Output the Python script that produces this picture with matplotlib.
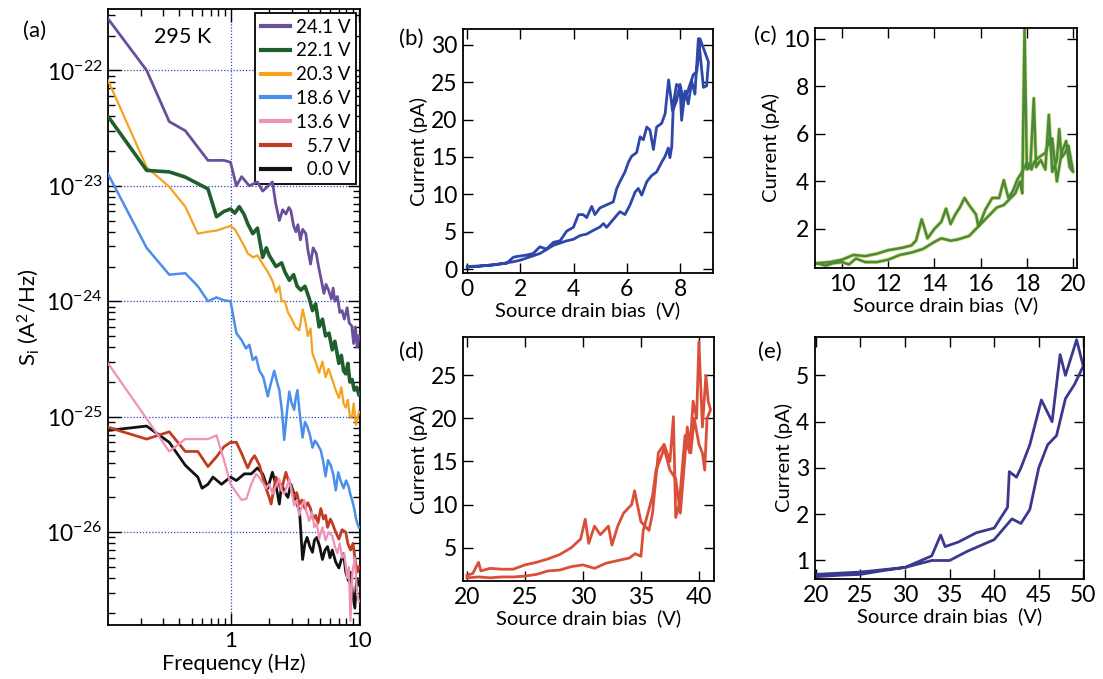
import matplotlib
matplotlib.use("Agg")
import matplotlib.pyplot as plt
from matplotlib.ticker import LogLocator, NullFormatter, FixedLocator

plt.rcParams['font.family'] = ['Lato', 'DejaVu Sans']
plt.rcParams['mathtext.fontset'] = 'custom'
plt.rcParams['mathtext.rm'] = 'Lato'
plt.rcParams['mathtext.it'] = 'Lato:italic'
plt.rcParams['mathtext.bf'] = 'Lato:bold'

# ---------------- panel (a) data ----------------
f_241 = [0.111, 0.222, 0.333, 0.444, 0.667, 0.889, 1.0, 1.11, 1.22, 1.4, 1.62, 1.78, 2.12, 2.25, 2.4,
         2.55, 2.7, 2.85, 2.95, 3.1, 3.23, 3.35, 3.5, 3.65, 3.86, 4.0, 4.2, 4.4, 4.65, 4.85, 5.05, 5.34,
         5.55, 5.8, 6.1, 6.3, 6.5, 6.8, 7.1, 7.4, 7.7, 8.1, 8.4, 8.8, 9.1, 9.4, 9.7, 10.0]
s_241 = [2.8e-22, 1.0e-22, 3.6e-23, 3.0e-23, 1.66e-23, 1.66e-23, 1.6e-23, 1.0e-23, 1.2e-23, 1.0e-23,
         1.08e-23, 0.9e-23, 1.08e-23, 7.0e-24, 5.0e-24, 6.2e-24, 5.7e-24, 6.5e-24, 6.1e-24, 4.5e-24,
         4.0e-24, 4.6e-24, 3.4e-24, 4.2e-24, 3.85e-24, 2.8e-24, 2.1e-24, 2.9e-24, 2.6e-24, 2.0e-24,
         1.6e-24, 1.17e-24, 1.4e-24, 1.25e-24, 1.05e-24, 1.3e-24, 1.0e-24, 1.1e-24, 8.0e-25, 8.3e-25,
         7.0e-25, 8.8e-25, 6.5e-25, 6.1e-25, 4.3e-25, 6.0e-25, 4.0e-25, 5.0e-25]

f_221 = [0.111, 0.222, 0.333, 0.444, 0.667, 0.778, 0.889, 1.0, 1.08, 1.17, 1.28, 1.36, 1.49, 1.62, 1.78,
         1.9, 2.0, 2.26, 2.5, 2.65, 2.87, 3.1, 3.3, 3.53, 3.8, 4.1, 4.35, 4.6, 4.9, 5.2, 5.5, 5.85, 6.2,
         6.5, 6.98, 7.3, 7.6, 7.9, 8.2, 8.5, 8.85, 9.2, 9.6, 10.0]
s_221 = [4.0e-23, 1.36e-23, 1.32e-23, 1.19e-23, 9.4e-24, 5.4e-24, 6.0e-24, 6.3e-24, 5.8e-24, 6.6e-24,
         5.6e-24, 4.7e-24, 3.85e-24, 4.3e-24, 2.4e-24, 2.9e-24, 2.5e-24, 2.0e-24, 2.15e-24, 1.8e-24,
         1.52e-24, 1.7e-24, 1.35e-24, 1.25e-24, 1.35e-24, 1.06e-24, 8.3e-25, 9.5e-25, 6.0e-25, 7.0e-25,
         5.0e-25, 5.3e-25, 3.8e-25, 4.5e-25, 2.9e-25, 3.4e-25, 2.5e-25, 2.35e-25, 2.9e-25, 2.0e-25,
         2.1e-25, 1.7e-25, 1.8e-25, 1.55e-25]

f_203 = [0.111, 0.222, 0.333, 0.444, 0.556, 0.667, 0.778, 0.889, 1.0, 1.08, 1.17, 1.28, 1.36, 1.5, 1.62,
         1.78, 1.95, 2.12, 2.26, 2.4, 2.5, 2.65, 2.8, 3.0, 3.2, 3.43, 3.65, 3.85, 4.0, 4.2, 4.35, 4.6, 4.9,
         5.2, 5.5, 5.8, 6.2, 6.6, 6.98, 7.3, 7.6, 7.9, 8.2, 8.5, 8.85, 9.1, 9.5, 10.0]
s_203 = [8.2e-23, 1.45e-23, 9.8e-24, 6.6e-24, 3.85e-24, 4.0e-24, 4.1e-24, 4.3e-24, 4.5e-24, 4.2e-24,
         3.6e-24, 3.0e-24, 2.6e-24, 2.4e-24, 2.5e-24, 2.1e-24, 1.8e-24, 1.5e-24, 1.2e-24, 1.35e-24,
         1.0e-24, 1.0e-24, 8.0e-25, 7.0e-25, 6.0e-25, 5.6e-25, 8.5e-25, 6.5e-25, 5.0e-25, 5.8e-25,
         3.5e-25, 3.0e-25, 2.4e-25, 3.0e-25, 2.2e-25, 2.6e-25, 2.1e-25, 1.7e-25, 1.45e-25, 1.8e-25,
         1.3e-25, 1.2e-25, 1.4e-25, 1.0e-25, 1.0e-25, 1.3e-25, 8.5e-26, 1.1e-25]

f_186 = [0.111, 0.222, 0.333, 0.444, 0.556, 0.667, 0.778, 0.889, 1.0, 1.11, 1.22, 1.32, 1.4, 1.49, 1.58,
         1.68, 1.8, 1.95, 2.05, 2.19, 2.3, 2.4, 2.52, 2.62, 2.75, 2.87, 3.0, 3.13, 3.22, 3.32, 3.48, 3.64,
         3.8, 3.95, 4.15, 4.35, 4.55, 4.75, 5.05, 5.25, 5.5, 5.75, 6.03, 6.3, 6.6, 6.9, 7.2, 7.6, 7.95,
         8.3, 8.6, 8.85, 9.2, 9.5, 9.7, 10.0]
s_186 = [1.27e-23, 2.9e-24, 1.7e-24, 1.75e-24, 1.35e-24, 1.0e-24, 1.08e-24, 1.02e-24, 1.0e-24, 5.3e-25,
         4.6e-25, 3.9e-25, 4.2e-25, 3.1e-25, 3.3e-25, 2.5e-25, 2.2e-25, 1.5e-25, 1.9e-25, 2.5e-25,
         2.0e-25, 1.7e-25, 1.1e-25, 6.3e-26, 1.1e-25, 1.65e-25, 1.3e-25, 1.15e-25, 1.45e-25, 1.7e-25,
         1.0e-25, 6.6e-26, 9.0e-26, 8.3e-26, 7.0e-26, 5.4e-26, 6.2e-26, 5.8e-26, 5.1e-26, 4.2e-26,
         3.05e-26, 4.2e-26, 3.8e-26, 3.2e-26, 2.3e-26, 3.3e-26, 2.8e-26, 2.4e-26, 2.8e-26, 2.5e-26,
         2.1e-26, 1.9e-26, 1.6e-26, 1.3e-26, 1.2e-26, 1.1e-26]

f_136 = [0.111, 0.222, 0.333, 0.444, 0.556, 0.667, 0.778, 0.889, 1.0, 1.11, 1.22, 1.33, 1.45, 1.58, 1.7,
         1.89, 2.0, 2.12, 2.25, 2.4, 2.5, 2.62, 2.75, 2.87, 3.0, 3.13, 3.28, 3.43, 3.6, 3.75, 3.9, 4.1,
         4.3, 4.5, 4.7, 4.9, 5.2, 5.5, 5.8, 6.2, 6.5, 6.8, 7.1, 7.4, 7.7, 8.1, 8.35, 8.6, 8.9, 9.3, 9.5,
         9.7, 10.0]
s_136 = [2.9e-25, 9.6e-26, 5.0e-26, 6.4e-26, 6.4e-26, 6.4e-26, 6.9e-26, 4.2e-26, 2.6e-26, 2.2e-26,
         1.9e-26, 1.95e-26, 2.6e-26, 3.2e-26, 2.9e-26, 2.4e-26, 2.6e-26, 2.15e-26, 2.5e-26, 2.9e-26,
         2.3e-26, 2.15e-26, 2.5e-26, 2.9e-26, 2.2e-26, 1.7e-26, 1.9e-26, 1.4e-26, 1.7e-26, 1.9e-26,
         1.5e-26, 1.25e-26, 1.5e-26, 1.1e-26, 1.2e-26, 8.7e-27, 1.1e-26, 8.5e-27, 1.0e-26, 9.3e-27,
         7.5e-27, 6.6e-27, 8.0e-27, 6.0e-27, 6.5e-27, 4.0e-27, 5.0e-27, 1.7e-27, 4.5e-27, 6.0e-27,
         4.0e-27, 2.9e-27, 2.5e-27]

f_57 = [0.111, 0.222, 0.333, 0.444, 0.556, 0.667, 0.778, 0.889, 1.0, 1.11, 1.22, 1.36, 1.45, 1.54, 1.68,
        1.78, 1.89, 2.0, 2.07, 2.18, 2.26, 2.38, 2.5, 2.6, 2.7, 2.82, 2.95, 3.05, 3.13, 3.28, 3.43, 3.6,
        3.8, 4.0, 4.2, 4.4, 4.6, 4.8, 5.05, 5.3, 5.5, 5.7, 6.0, 6.2, 6.6, 6.98, 7.4, 7.9, 8.2, 8.6, 9.0,
        9.4, 9.7, 10.0]
s_57 = [8.1e-26, 6.4e-26, 7.4e-26, 5.0e-26, 5.0e-26, 3.7e-26, 4.5e-26, 5.5e-26, 6.0e-26, 6.0e-26,
        4.8e-26, 3.6e-26, 4.2e-26, 4.6e-26, 3.8e-26, 3.0e-26, 2.4e-26, 2.0e-26, 1.75e-26, 2.4e-26,
        3.0e-26, 2.6e-26, 2.3e-26, 2.8e-26, 3.3e-26, 2.8e-26, 2.5e-26, 2.2e-26, 2.0e-26, 2.2e-26,
        1.75e-26, 1.9e-26, 1.6e-26, 1.8e-26, 1.6e-26, 1.3e-26, 1.4e-26, 1.2e-26, 1.6e-26, 1.3e-26,
        1.4e-26, 1.1e-26, 1.3e-26, 1.2e-26, 1.0e-26, 8.7e-27, 1.05e-26, 1.0e-26, 8.0e-27, 7.0e-27,
        8.0e-27, 5.5e-27, 4.5e-27, 5.0e-27]

f_00 = [0.111, 0.222, 0.333, 0.444, 0.556, 0.6, 0.667, 0.73, 0.85, 1.0, 1.11, 1.28, 1.45, 1.62, 1.78,
        1.95, 2.12, 2.25, 2.4, 2.5, 2.65, 2.8, 2.95, 3.1, 3.3, 3.45, 3.64, 3.8, 3.95, 4.15, 4.35, 4.5,
        4.7, 4.95, 5.2, 5.45, 5.7, 5.95, 6.2, 6.6, 6.98, 7.3, 7.6, 7.9, 8.3, 8.6, 8.9, 9.3, 9.6, 10.0]
s_00 = [7.6e-26, 8.3e-26, 6.0e-26, 3.8e-26, 3.0e-26, 2.4e-26, 2.6e-26, 3.0e-26, 2.6e-26, 3.0e-26,
        2.8e-26, 3.2e-26, 3.2e-26, 3.6e-26, 3.2e-26, 2.4e-26, 3.3e-26, 2.6e-26, 1.75e-26, 2.6e-26,
        2.2e-26, 2.0e-26, 2.6e-26, 2.2e-26, 1.75e-26, 1.5e-26, 5.8e-27, 8.0e-27, 9.0e-27, 7.5e-27,
        6.7e-27, 8.5e-27, 9.0e-27, 7.5e-27, 5.8e-27, 7.0e-27, 7.5e-27, 6.0e-27, 7.0e-27, 5.5e-27,
        4.9e-27, 5.8e-27, 6.5e-27, 4.5e-27, 3.8e-27, 4.5e-27, 3.0e-27, 2.2e-27, 4.0e-27, 3.5e-27]

labels_a = ['24.1 V', '22.1 V', '20.3 V', '18.6 V', '13.6 V', '\u20075.7 V', '\u20070.0 V']
colors_a = ['#6a4f9c', '#1f5e2d', '#f5a31f', '#4a8fec', '#ef93b4', '#c23b22', '#111111']
widths_a = [2.0, 2.6, 1.6, 1.8, 1.6, 2.0, 2.0]

# ---------------- panels (b)-(e) data ----------------
vb = [0.0, 0.98, 1.73, 1.98, 2.73, 3.24, 3.74, 3.99, 4.24, 4.49, 4.74, 4.99, 5.12, 5.24, 5.49, 5.74,
      5.93, 6.12, 6.31, 6.43, 6.56, 6.75, 6.93, 7.12, 7.31, 7.44, 7.56, 7.62, 7.69, 7.75, 7.87, 8.0,
      8.06, 8.19, 8.31, 8.44, 8.56, 8.69, 8.75, 8.88, 9.0, 9.07, 8.75, 8.63, 8.5, 8.31, 8.13, 8.0,
      7.87, 7.72, 7.57, 7.44, 7.31, 7.12, 7.0, 6.87, 6.75, 6.62, 6.5, 6.37, 6.18, 6.06, 5.93, 5.74,
      5.62, 5.49, 5.24, 4.99, 4.8, 4.68, 4.49, 4.36, 4.18, 3.99, 3.74, 3.49, 3.24, 2.98, 2.73, 2.48,
      2.23, 1.86, 1.73, 1.48, 0.98, 0.48, 0.0]
ib = [0.35, 0.57, 1.0, 1.2, 2.1, 3.2, 3.8, 4.0, 4.5, 4.7, 5.2, 5.65, 6.1, 5.6, 6.65, 7.7, 7.3, 8.6, 10.3,
      10.8, 9.9, 11.7, 12.5, 13.0, 14.3, 15.1, 16.2, 14.9, 16.4, 22.1, 24.7, 24.3, 19.9, 23.8, 22.1,
      25.1, 23.4, 30.8, 29.0, 24.3, 24.5, 27.7, 30.8, 26.4, 26.0, 24.0, 22.5, 24.7, 22.5, 21.2, 25.3,
      20.8, 19.5, 19.0, 16.0, 18.6, 19.0, 17.3, 17.7, 15.6, 15.1, 14.3, 13.0, 11.7, 10.8, 9.0, 8.6,
      8.2, 7.3, 8.4, 6.9, 7.3, 7.3, 5.6, 5.1, 3.8, 3.6, 2.7, 3.0, 2.1, 1.9, 1.7, 1.6, 0.8, 0.6, 0.4,
      0.3]

vc = [8.9, 9.3, 9.6, 10.0, 10.3, 10.6, 11.0, 11.5, 12.0, 12.5, 13.0, 13.5, 14.0, 14.3, 14.7, 15.0,
      15.5, 16.0, 16.4, 16.7, 17.0, 17.3, 17.5, 17.7, 17.8, 17.9, 18.0, 18.15, 18.3, 18.4, 18.6, 18.8,
      18.95, 19.1, 19.3, 19.4, 19.5, 19.65, 19.8, 20.0, 19.85, 19.7, 19.5, 19.3, 19.1, 19.0, 18.8,
      18.5, 18.3, 18.2, 18.0, 17.8, 17.6, 17.4, 17.2, 17.0, 16.8, 16.5, 16.2, 16.0, 15.9, 15.8, 15.5,
      15.3, 15.1, 14.9, 14.7, 14.5, 14.3, 14.0, 13.7, 13.45, 13.2, 13.0, 12.6, 12.0, 11.5, 11.0, 10.5,
      10.0, 9.5, 8.9]
ic = [0.55, 0.45, 0.55, 0.6, 0.5, 0.75, 0.6, 0.6, 0.7, 0.9, 1.0, 1.15, 1.45, 1.6, 1.5, 1.55, 1.7, 2.2,
      2.6, 2.9, 3.0, 3.3, 3.5, 4.0, 3.5, 10.4, 4.5, 4.6, 7.5, 4.6, 4.9, 4.5, 6.8, 4.4, 4.9, 6.2, 5.0,
      5.2, 5.5, 4.4, 4.6, 5.7, 5.2, 4.0, 5.8, 5.8, 5.2, 5.0, 4.8, 4.5, 4.8, 4.4, 4.1, 3.6, 3.3, 4.05,
      3.3, 3.3, 2.8, 2.3, 2.1, 2.6, 3.0, 3.3, 2.9, 2.6, 2.2, 2.85, 2.3, 2.0, 1.6, 2.4, 1.5, 1.3, 1.2,
      1.1, 0.95, 0.85, 0.9, 0.7, 0.6, 0.55]

vd = [20.0, 21.0, 22.0, 23.0, 24.0, 25.0, 26.0, 27.0, 28.0, 29.0, 30.0, 31.0, 32.0, 33.0, 34.0, 34.5,
      35.0, 35.2, 35.5, 36.0, 36.3, 36.6, 37.0, 37.5, 38.0, 38.4, 38.7, 39.0, 39.3, 39.6, 40.0, 40.3,
      40.5, 40.7, 41.0, 40.8, 40.6, 40.3, 40.0, 39.8, 39.5, 39.2, 38.8, 38.3, 38.0, 37.8, 37.5, 37.0,
      36.5, 36.0, 35.7, 35.0, 34.45, 34.2, 33.5, 33.0, 32.5, 32.2, 31.5, 31.0, 30.5, 30.2, 29.8, 29.0,
      28.0, 27.0, 26.0, 25.0, 24.0, 23.0, 22.0, 21.2, 21.0, 20.5, 20.0]
id_ = [1.5, 1.6, 1.5, 1.6, 1.6, 1.7, 1.9, 2.3, 2.4, 2.8, 3.0, 2.6, 3.2, 3.5, 3.8, 4.3, 4.0, 7.0, 8.5,
       11.0, 14.0, 15.0, 16.5, 14.0, 13.0, 9.0, 14.0, 19.0, 16.0, 20.0, 17.0, 16.0, 14.0, 20.0, 21.0,
       22.0, 25.0, 19.0, 28.9, 20.0, 22.0, 16.0, 18.0, 10.0, 8.5, 20.2, 15.0, 17.0, 16.0, 9.0, 7.0,
       8.0, 11.6, 10.0, 9.0, 7.5, 5.3, 7.5, 6.5, 7.5, 5.5, 8.3, 6.0, 5.0, 4.2, 3.7, 3.3, 3.0, 2.5, 2.5,
       2.6, 2.3, 3.3, 2.0, 1.8]

ve = [20.0, 22.5, 25.0, 27.5, 30.0, 33.0, 35.0, 37.0, 40.0, 42.0, 43.0, 44.0, 45.0, 46.0, 47.0, 48.0,
      49.0, 50.0, 49.25, 48.0, 47.4, 46.5, 45.3, 44.0, 43.0, 42.5, 41.7, 41.5, 40.0, 38.0, 36.0, 34.5,
      34.0, 33.0, 30.0, 25.0, 20.0]
ie = [0.65, 0.68, 0.7, 0.78, 0.85, 1.0, 1.0, 1.2, 1.45, 1.9, 1.8, 2.1, 3.0, 3.5, 3.7, 4.5, 4.8, 5.2,
      5.77, 5.0, 5.45, 4.0, 4.47, 3.5, 3.0, 2.8, 2.92, 2.15, 1.7, 1.6, 1.4, 1.3, 1.55, 1.1, 0.85, 0.75,
      0.7]

# ---------------- figure ----------------
fig = plt.figure(figsize=(11.03, 6.79), dpi=100)
W, H = 1103, 679

def rect(l, t, r, b):
    return [l / W, 1 - b / H, (r - l) / W, (b - t) / H]

TICK_FS = 16.5
LABEL_FS = 14.5
PANEL_FS = 16

def style(ax, major_len=7, minor_len=4):
    ax.tick_params(which='both', direction='in', top=True, right=True, width=1.0,
                   labelsize=TICK_FS, colors='black')
    ax.tick_params(which='major', length=major_len, pad=4)
    ax.tick_params(which='minor', length=minor_len)
    for s in ax.spines.values():
        s.set_linewidth(1.3)
        s.set_color('black')

# panel (a)
axa = fig.add_axes(rect(108, 9, 360, 625))
series_a = [(f_241, s_241), (f_221, s_221), (f_203, s_203), (f_186, s_186),
            (f_136, s_136), (f_57, s_57), (f_00, s_00)]
handles = [None] * 7
for i in [6, 5, 4, 3, 2, 1, 0]:
    fx, sy = series_a[i]
    ln, = axa.plot(fx, sy, color=colors_a[i], lw=widths_a[i], label=labels_a[i], zorder=3 + (6 - i))
    handles[i] = ln
axa.set_xscale('log')
axa.set_yscale('log')
axa.set_xlim(0.111, 10.2)
axa.set_ylim(1.57e-27, 3.4e-22)
axa.xaxis.set_major_locator(FixedLocator([1, 10]))
axa.set_xticklabels(['1', '10'])
axa.xaxis.set_minor_locator(LogLocator(base=10, subs=[2, 3, 4, 5, 6, 7, 8, 9], numticks=20))
axa.xaxis.set_minor_formatter(NullFormatter())
yt = [1e-26, 1e-25, 1e-24, 1e-23, 1e-22]
axa.yaxis.set_major_locator(FixedLocator(yt))
axa.set_yticklabels([r'$10^{-26}$', r'$10^{-25}$', r'$10^{-24}$', r'$10^{-23}$', r'$10^{-22}$'])
axa.yaxis.set_minor_locator(LogLocator(base=10, subs=[2, 3, 4, 5, 6, 7, 8, 9], numticks=20))
axa.yaxis.set_minor_formatter(NullFormatter())
style(axa, major_len=9, minor_len=5)
axa.tick_params(axis='y', labelsize=16.5)
axa.tick_params(axis='x', labelsize=16)
axa.grid(True, which='major', color='#3344bb', linestyle=(0, (1, 1.5)), linewidth=0.9)
axa.set_axisbelow(True)
axa.set_xlabel('Frequency (Hz)', fontsize=15.5, labelpad=2)
axa.set_ylabel(r'S$_\mathrm{i}$ (A$^2$/Hz)', fontsize=LABEL_FS + 1.5, labelpad=4)
axa.text(0.295, 0.955, '295 K', transform=axa.transAxes, fontsize=15.5, ha='center', va='center')
leg = axa.legend(handles=handles, labels=labels_a, loc='upper right', fontsize=13.5,
                 frameon=True, fancybox=False, edgecolor='black', framealpha=1,
                 handlelength=1.55, handletextpad=0.3, labelspacing=0.36, borderpad=0.3,
                 borderaxespad=0.22)
leg.get_frame().set_linewidth(1.3)
for lh in leg.get_lines():
    lh.set_linewidth(3.0)
fig.text(35 / W, 1 - 31 / H, '(a)', fontsize=PANEL_FS, ha='center', va='center')

# panel (b)
axb = fig.add_axes(rect(463, 29, 713, 273))
axb.plot(vb, ib, color='#2e47a8', lw=2.0)
axb.set_xlim(-0.16, 9.24)
axb.set_ylim(-0.5, 32.1)
axb.set_xticks([0, 2, 4, 6, 8])
axb.set_yticks([0, 5, 10, 15, 20, 25, 30])
style(axb)
axb.set_xlabel('Source drain bias  (V)', fontsize=LABEL_FS, labelpad=1)
axb.set_ylabel('Current (pA)', fontsize=LABEL_FS, labelpad=2)
fig.text(411 / W, 1 - 39 / H, '(b)', fontsize=PANEL_FS, ha='center', va='center')

# panel (c)
axc = fig.add_axes(rect(815, 28, 1077, 268))
axc.plot(vc, ic, color='#c9d65a', lw=2.8, alpha=0.8)
axc.plot(vc, ic, color='#4a8a3c', lw=1.8)
axc.set_xlim(8.83, 20.17)
axc.set_ylim(0.35, 10.46)
axc.set_xticks([10, 12, 14, 16, 18, 20])
axc.set_yticks([2, 4, 6, 8, 10])
style(axc)
axc.set_xlabel('Source drain bias  (V)', fontsize=LABEL_FS, labelpad=1)
axc.set_ylabel('Current (pA)', fontsize=LABEL_FS, labelpad=2)
fig.text(765 / W, 1 - 36 / H, '(c)', fontsize=PANEL_FS, ha='center', va='center')

# panel (d)
axd = fig.add_axes(rect(463, 337, 714, 581))
axd.plot(vd, id_, color='#da4f39', lw=2.0)
axd.set_xlim(19.66, 41.3)
axd.set_ylim(1.13, 29.45)
axd.set_xticks([20, 25, 30, 35, 40])
axd.set_yticks([5, 10, 15, 20, 25])
style(axd)
axd.set_xlabel('Source drain bias  (V)', fontsize=LABEL_FS, labelpad=1)
axd.set_ylabel('Current (pA)', fontsize=LABEL_FS, labelpad=2)
fig.text(411 / W, 1 - 352 / H, '(d)', fontsize=PANEL_FS, ha='center', va='center')

# panel (e)
axe = fig.add_axes(rect(815, 337, 1084, 579))
axe.plot(ve, ie, color='#3b3890', lw=2.0)
axe.set_xlim(19.9, 50.08)
axe.set_ylim(0.6, 5.83)
axe.set_xticks([20, 25, 30, 35, 40, 45, 50])
axe.set_yticks([1, 2, 3, 4, 5])
style(axe)
axe.set_xlabel('Source drain bias  (V)', fontsize=LABEL_FS, labelpad=1)
axe.set_ylabel('Current (pA)', fontsize=LABEL_FS, labelpad=2)
fig.text(770 / W, 1 - 352 / H, '(e)', fontsize=PANEL_FS, ha='center', va='center')

fig.savefig('out.png', dpi=100)
